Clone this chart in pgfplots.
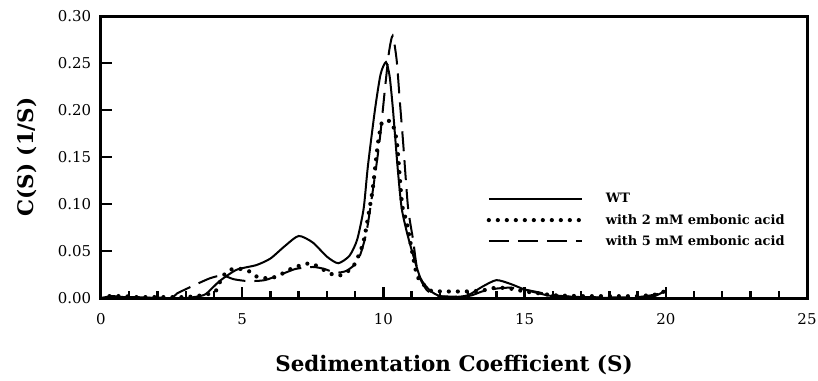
\documentclass[border=0pt]{standalone}
\usepackage{fontspec}
\setmainfont{DejaVu Serif}
\usepackage{pgfplots}
\pgfplotsset{compat=1.18}
\begin{document}
\begin{tikzpicture}
\path[use as bounding box] (-101bp,-83bp) rectangle (717bp,298bp);
\begin{axis}[
  at={(0,0)}, anchor=origin,
  scale only axis, width=706bp, height=282bp,
  xmin=0, xmax=25, ymin=0, ymax=0.30,
  line width=3bp,
  axis line style={line width=3bp, line cap=rect},
  tick style={line width=2.4bp, black},
  tick align=inside,
  major tick length=11bp, minor tick length=7.5bp,
  xtick={0,5,...,25}, minor xtick={1,2,3,4,6,7,8,9,11,12,13,14,16,17,18,19,21,22,23,24},
  ytick={0,0.05,...,0.30},
  xtick pos=bottom, ytick pos=left,
  yticklabel style={/pgf/number format/fixed, /pgf/number format/fixed zerofill, /pgf/number format/precision=2},
  /pgf/number format/assume math mode=true,
  ticklabel style={font=\fontsize{15}{17}\selectfont},
  xticklabel style={yshift=-11bp},
  yticklabel style={xshift=-5bp},
  xlabel={\textbf{Sedimentation Coefficient (S)}},
  ylabel={\textbf{C(S) (1/S)}},
  label style={font=\fontsize{21.5}{24}\selectfont},
  xlabel style={yshift=-22bp},
  ylabel style={yshift=13bp},
  legend style={draw=none, fill=none, at={(0.54,0.39)}, anchor=north west,
    font=\fontsize{13}{15}\selectfont\bfseries, row sep=6bp, column sep=8bp, legend cell align=left,
    nodes={inner xsep=14bp}},
  legend image code/.code={\draw[#1] (0bp,0bp) -- (93bp,0bp);},
  clip=false,
]
\addplot[black, line width=2bp, smooth, tension=0.4] coordinates {
(0,0.000) (0.4,0.002) (0.8,0.001) (1.2,0.001) (2,0.000) (3,0.000) (3.3,0.001) (3.7,0.004)
(4.2,0.018) (4.8,0.030) (5.5,0.035) (6.0,0.042) (6.5,0.055) (7.0,0.066) (7.5,0.059)
(8.0,0.044) (8.4,0.037) (8.8,0.045) (9.07,0.062) (9.3,0.095) (9.45,0.140) (9.7,0.200)
(9.9,0.238) (10.09,0.251) (10.22,0.236) (10.34,0.200) (10.5,0.140) (10.65,0.095)
(10.9,0.062) (11.3,0.022) (11.65,0.008) (12,0.002) (12.5,0.001) (13,0.003) (13.5,0.012)
(14,0.019) (14.5,0.015) (15,0.009) (15.5,0.005) (16,0.002) (17,0.001) (18,0.000)
(19,0.000) (19.6,0.002) (20,0.008)
};
\addlegendentry{WT}
\addplot[black, line width=4.2bp, line cap=round, dash pattern=on 0bp off 9bp, smooth, tension=0.4] coordinates {
(0.3,0.002) (0.8,0.002) (1.2,0.001) (2,0.001) (3,0.001) (3.6,0.003) (4.0,0.006)
(4.14,0.011) (4.28,0.022) (4.57,0.030) (4.92,0.031) (5.28,0.028) (5.5,0.023) (5.88,0.021)
(6.23,0.023) (6.8,0.032) (7.4,0.037) (7.76,0.032) (8.2,0.025) (8.46,0.024) (8.92,0.033)
(9.28,0.058) (9.52,0.097) (9.63,0.118) (9.81,0.165) (9.95,0.187) (10.12,0.188) (10.3,0.187)
(10.48,0.165) (10.66,0.100) (10.83,0.080) (11.05,0.044) (11.22,0.022) (11.65,0.008)
(12,0.007) (13,0.007) (13.5,0.008) (14,0.011) (14.5,0.010) (15,0.007) (15.5,0.005)
(16,0.003) (17,0.002) (18,0.002) (19,0.002) (19.7,0.004) (20,0.008)
};
\addlegendentry{with 2 mM embonic acid}
\addplot[black, line width=2bp, dash pattern=on 20bp off 9bp, smooth, tension=0.4] coordinates {
(0.5,0.001) (1.5,0.000) (2.5,0.001) (2.7,0.005) (3.26,0.013) (3.86,0.021) (4.3,0.024)
(4.7,0.020) (5.2,0.018) (5.8,0.019) (6.45,0.026) (6.9,0.031) (7.5,0.033) (7.9,0.031)
(8.3,0.027) (8.7,0.029) (9.1,0.040) (9.4,0.070) (9.7,0.130) (9.88,0.171) (10.06,0.224)
(10.2,0.262) (10.33,0.279) (10.47,0.253) (10.58,0.210) (10.7,0.165) (10.87,0.097)
(11.05,0.062) (11.22,0.027) (11.55,0.008) (12,0.002) (13,0.002) (13.5,0.007) (14,0.010)
(14.5,0.011) (15,0.009) (15.5,0.006) (16,0.003) (17,0.001) (19,0.001) (20,0.006)
};
\addlegendentry{with 5 mM embonic acid}
\end{axis}
\end{tikzpicture}
\end{document}
